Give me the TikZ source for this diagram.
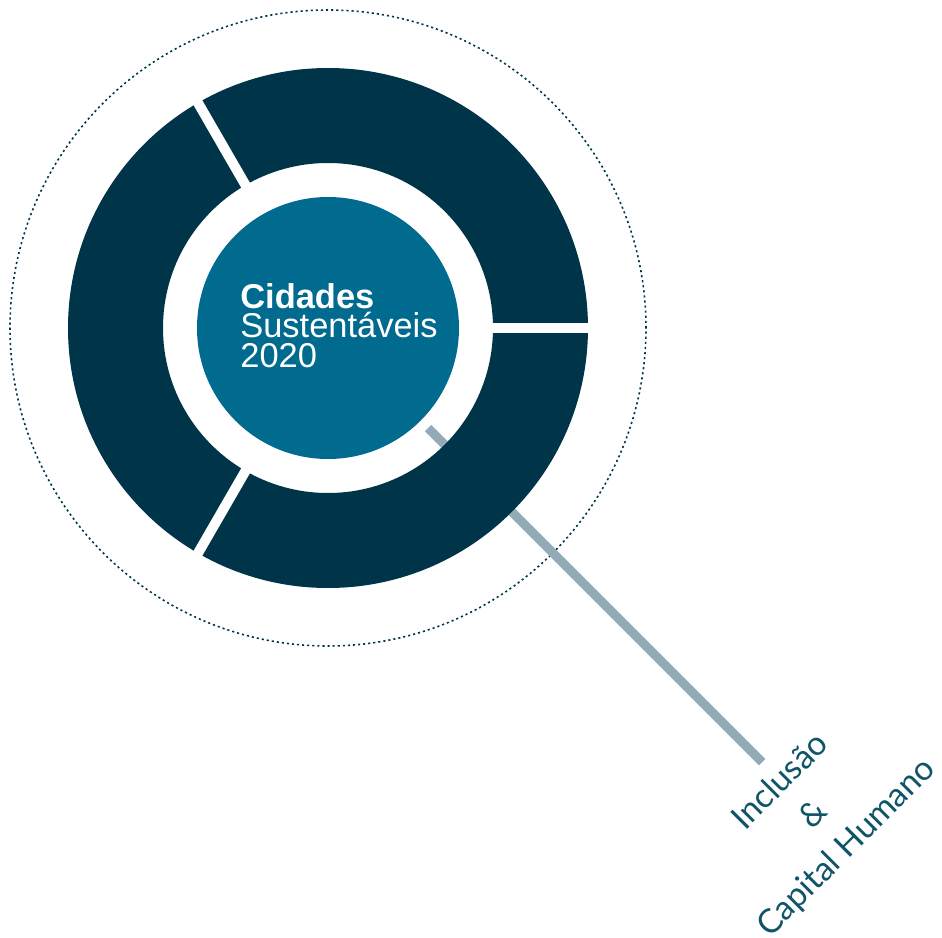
\documentclass[tikz,border=0pt]{standalone}
\usepackage{fontspec}
\setmainfont{Liberation Sans}
\newfontfamily\labelfont{Lato}
\definecolor{ringblue}{HTML}{003448}
\definecolor{hubblue}{HTML}{006A8F}
\definecolor{stemgray}{HTML}{93AAB7}
\definecolor{labelteal}{HTML}{0F5468}
\begin{document}
\begin{tikzpicture}[font=\fontsize{19.6}{16.7}\selectfont]
\useasboundingbox (-6.56,-12.2) rectangle (12.28,6.56);
% Rahmen (gepunktet)
\draw[ringblue, line width=0.9pt, dash pattern=on 1.2pt off 1.7pt] (0,0) circle (6.36);
% Stiel zur Beschriftung
\coordinate (stemstart) at (-45:2.83);
\coordinate (stemend) at (-45:12.28);
\draw[stemgray, line width=5.1pt] (stemstart) -- (stemend);
% Ring mit drei Segmenten
\fill[ringblue, even odd rule] (0,0) circle (5.2) (0,0) circle (3.3);
\foreach \a in {0,120,240}{\draw[white, line width=5.7pt] (\a:3.2) -- (\a:5.3);}
% Kern
\fill[hubblue] (0,0) circle (2.62);
\node[white, align=left, anchor=west, inner sep=0pt] (hub) at (-1.76,0.05)
  {\textbf{Cidades}\\Sustentáveis\\2020};
% Beschriftung
\node[labelteal, rotate=45, align=center, inner sep=0pt,
  font=\labelfont\fontsize{19}{26.5}\selectfont] (incl) at (9.72,-9.74)
  {Inclusão\\\&\\Capital Humano};
\end{tikzpicture}
\end{document}
